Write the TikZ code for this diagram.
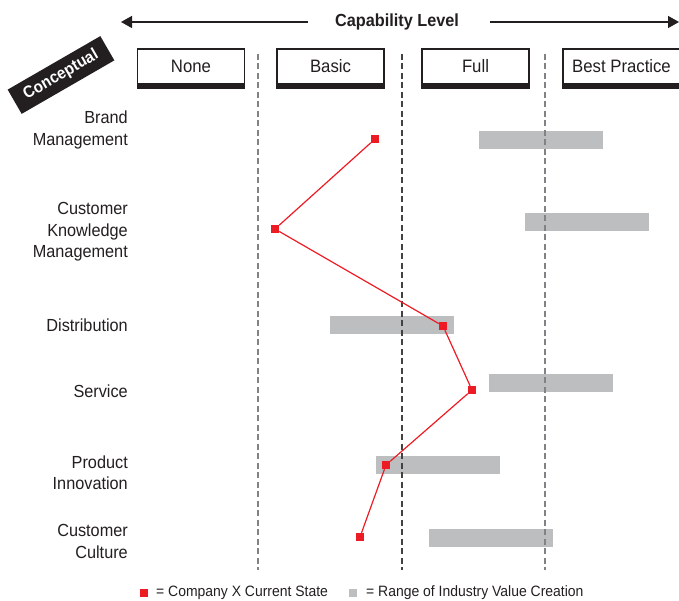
\documentclass[tikz,border=0pt]{standalone}
\usepackage{fontspec}
\setmainfont{Liberation Sans}[FakeStretch=0.93]
\usetikzlibrary{arrows.meta}
\definecolor{cred}{HTML}{ED1C24}
\definecolor{cbar}{HTML}{BCBEC0}
\definecolor{ctext}{HTML}{231F20}
\definecolor{cguide}{HTML}{808285}
\begin{document}
\begin{tikzpicture}[x=1pt,y=-1pt,
  lbl/.style={align=right, anchor=east, text=ctext, font=\fontsize{17.5}{21.5}\selectfont, inner sep=0pt},
  hdr/.style={draw=ctext, line width=1.2pt, fill=white, minimum width=107pt, minimum height=35pt, inner sep=0pt, font=\fontsize{18}{21}\selectfont, text=ctext},
  bar/.style={fill=cbar, minimum width=124pt, minimum height=18pt, inner sep=0pt},
  marker/.style={fill=cred, minimum size=8pt, inner sep=0pt},
  guide/.style={dash pattern=on 6pt off 3.5pt, line width=1.3pt},
  redline/.style={draw=cred, line width=1.2pt},
  caparrow/.style={draw=ctext, line width=1.3pt, -{Triangle[length=11pt,width=12pt]}},
  legtext/.style={anchor=west, inner sep=0pt, text=ctext, font=\fontsize{15}{17}\selectfont}
]
\useasboundingbox (0,0) rectangle (679,601);

% capability level arrow
\node[text=ctext, font=\bfseries\fontsize{17.5}{21}\selectfont] (cap) at (397,22) {Capability Level};
\coordinate (lstart) at (308,22);
\coordinate (ltip) at (121,22);
\coordinate (rstart) at (490,22);
\coordinate (rtip) at (679,22);
\draw[caparrow] (lstart) -- (ltip);
\draw[caparrow] (rstart) -- (rtip);

% conceptual tag
\node[fill=ctext, text=white, rotate=30, minimum width=107pt, minimum height=28pt, inner sep=0pt,
      font=\bfseries\fontsize{16.5}{18}\selectfont] (concept) at (61,75) {Conceptual};

% header boxes
\node[hdr] (hnone) at (191,66.5) {None};
\node[hdr] (hbasic) at (330.5,66.5) {Basic};
\node[hdr] (hfull) at (475.5,66.5) {Full};
\node[hdr, minimum width=117pt] (hbest) at (621.5,66.5) {Best Practice};
\foreach \h in {hnone,hbasic,hfull,hbest}
  \fill[ctext] (\h.south west) rectangle ([yshift=-4pt]\h.south east);

% row labels
\node[lbl] (lbrand) at (128,130) {Brand\\Management};
\node[lbl] (lckm) at (128,232) {Customer\\Knowledge\\Management};
\node[lbl] (ldist) at (128,325) {Distribution};
\node[lbl] (lserv) at (128,391) {Service};
\node[lbl] (lprod) at (128,472.5) {Product\\Innovation};
\node[lbl] (lcult) at (128,541.5) {Customer\\Culture};

% industry range bars
\node[bar] (bbrand) at (541,140) {};
\node[bar] (bckm) at (587,222) {};
\node[bar] (bdist) at (392,325) {};
\node[bar] (bserv) at (551,383) {};
\node[bar] (bprod) at (438,465) {};
\node[bar] (bcult) at (491,538) {};

% guides
\coordinate (g1t) at (258,54); \coordinate (g1b) at (258,570);
\coordinate (g2t) at (402,54); \coordinate (g2b) at (402,570);
\coordinate (g3t) at (545,54); \coordinate (g3b) at (545,570);
\draw[guide, draw=cguide] (g1t) -- (g1b);
\draw[guide, draw=ctext!85] (g2t) -- (g2b);
\draw[guide, draw=cguide] (g3t) -- (g3b);

% company X markers
\node[marker] (mbrand) at (375,139) {};
\node[marker] (mckm) at (275,229) {};
\node[marker] (mdist) at (443,326) {};
\node[marker] (mserv) at (472,390) {};
\node[marker] (mprod) at (386,465) {};
\node[marker] (mcult) at (360,537) {};
\draw[redline] (mbrand) -- (mckm) -- (mdist) -- (mserv) -- (mprod) -- (mcult);

% legend
\node[marker] (legred) at (144,593) {};
\node[legtext] (legredt) at (156,593) {= Company X Current State};
\node[marker, fill=cbar] (leggray) at (353,593) {};
\node[legtext] (leggrayt) at (366,593) {= Range of Industry Value Creation};
\end{tikzpicture}
\end{document}
